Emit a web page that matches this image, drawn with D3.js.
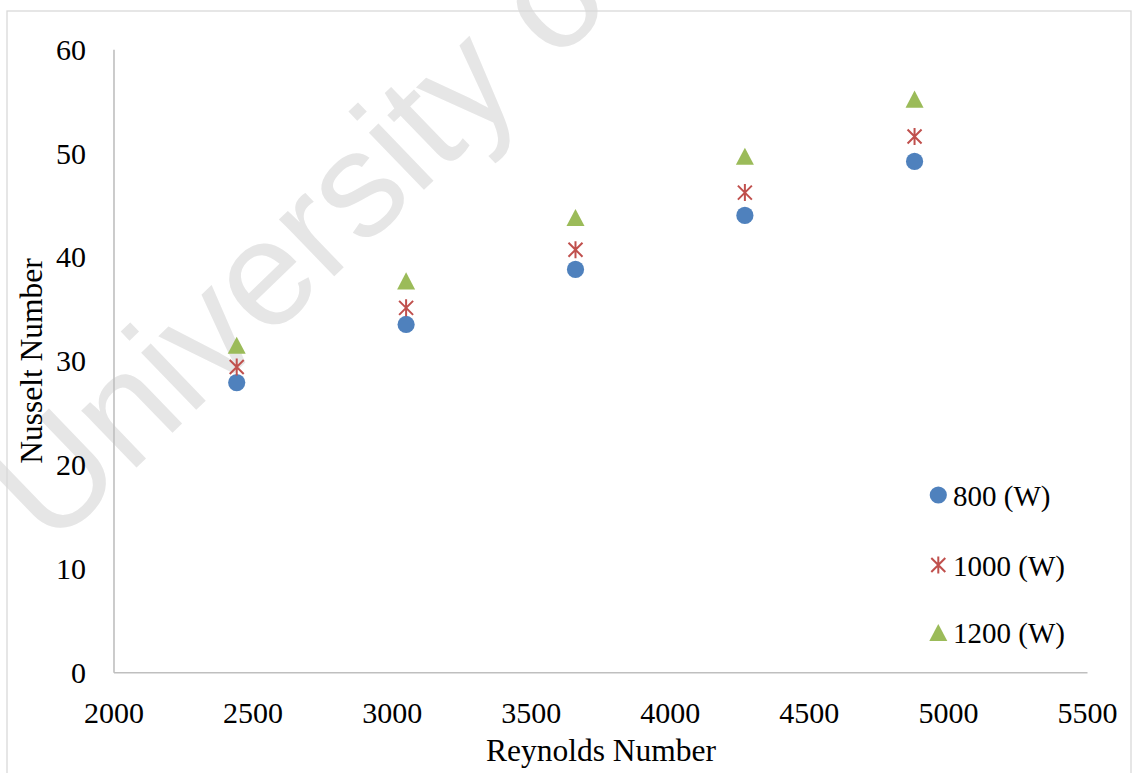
<!DOCTYPE html>
<html>
<head>
<meta charset="utf-8">
<script src="https://cdn.jsdelivr.net/npm/d3@7"></script>
<style>
  html, body { margin: 0; padding: 0; background: #ffffff; }
  svg { display: block; }
</style>
</head>
<body>
<svg id="chart" width="1135" height="773"></svg>
<script>
// Reynolds numbers of the five test runs
const reynolds = [2443, 3052, 3661, 4270, 4880];
// Nusselt number at each heater power
const nu800  = [27.9, 33.5, 38.8, 44.0, 49.2];
const nu1000 = [29.4, 35.1, 40.7, 46.2, 51.6];
const nu1200 = [31.5, 37.7, 43.8, 49.7, 55.2];
const seriesNames = ["800 (W)", "1000 (W)", "1200 (W)"];
const xTicks = [2000, 2500, 3000, 3500, 4000, 4500, 5000, 5500];
const yTicks = [0, 10, 20, 30, 40, 50, 60];

const FONT = "'Liberation Serif', 'Times New Roman', serif";
const svg = d3.select("#chart");

// faint watermark behind the chart
svg.append("text")
  .attr("transform", "translate(51,550) rotate(-44)")
  .attr("font-family", "'Liberation Sans', Arial, sans-serif")
  .attr("font-size", 150)
  .attr("fill", "#e6e6e6")
  .text("University of");

// chart area outline
svg.append("rect")
  .attr("x", 7).attr("y", 11)
  .attr("width", 1124).attr("height", 780)
  .attr("fill", "none")
  .attr("stroke", "#d9d9d9")
  .attr("stroke-width", 1.3);

const x = d3.scaleLinear().domain([2000, 5500]).range([113.5, 1087]);
const y = d3.scaleLinear().domain([0, 60]).range([672.3, 49.3]);

// x axis
const gx = svg.append("g")
  .attr("transform", `translate(0,${y(0)})`)
  .call(d3.axisBottom(x).tickValues(xTicks).tickSize(0).tickFormat(d3.format("d")));
gx.select(".domain").attr("stroke", "#bfbfbf").attr("stroke-width", 1.6);
gx.selectAll("text")
  .attr("y", 51).attr("dy", 0)
  .attr("font-family", FONT).attr("font-size", 30).attr("fill", "#000");

// y axis
const gy = svg.append("g")
  .attr("transform", `translate(${x(2000)},0)`)
  .call(d3.axisLeft(y).tickValues(yTicks).tickSize(0).tickFormat(d3.format("d")));
gy.select(".domain").attr("stroke", "#bfbfbf").attr("stroke-width", 1.6);
gy.selectAll("text")
  .attr("x", -27.5).attr("dy", "0.33em")
  .attr("font-family", FONT).attr("font-size", 30).attr("fill", "#000");

// axis titles
svg.append("text")
  .attr("x", 601).attr("y", 761)
  .attr("text-anchor", "middle")
  .attr("font-family", FONT).attr("font-size", 31.5)
  .text("Reynolds Number");
svg.append("text")
  .attr("transform", "translate(42,361) rotate(-90)")
  .attr("text-anchor", "middle")
  .attr("font-family", FONT).attr("font-size", 31.5)
  .text("Nusselt Number");

// marker shapes
const circlePath = d3.symbol().type(d3.symbolCircle).size(Math.PI * 8.6 * 8.6)();
const trianglePath = "M0,-8.6L9,8.6L-9,8.6Z";
const starPath = "M-7,-7L7,7M7,-7L-7,7M0,-8.5L0,8.5";

const series = [
  { name: seriesNames[0], values: nu800,  path: circlePath,   fill: "#4F81BD", stroke: "none" },
  { name: seriesNames[1], values: nu1000, path: starPath,     fill: "none",    stroke: "#C0504D" },
  { name: seriesNames[2], values: nu1200, path: trianglePath, fill: "#9BBB59", stroke: "none" }
];

series.forEach(s => {
  svg.append("g").selectAll("path")
    .data(reynolds.map((r, i) => [r, s.values[i]]))
    .join("path")
    .attr("transform", d => `translate(${x(d[0])},${y(d[1])})`)
    .attr("d", s.path)
    .attr("fill", s.fill)
    .attr("stroke", s.stroke)
    .attr("stroke-width", 2);
});

// legend
const legendY = [495, 565, 632.5];
const legend = svg.append("g");
series.forEach((s, i) => {
  legend.append("path")
    .attr("transform", `translate(938.3,${legendY[i]})`)
    .attr("d", s.path)
    .attr("fill", s.fill)
    .attr("stroke", s.stroke)
    .attr("stroke-width", 2);
  legend.append("text")
    .attr("x", 953).attr("y", legendY[i] + 10.5)
    .attr("font-family", FONT).attr("font-size", 29)
    .text(s.name);
});
</script>
</body>
</html>
